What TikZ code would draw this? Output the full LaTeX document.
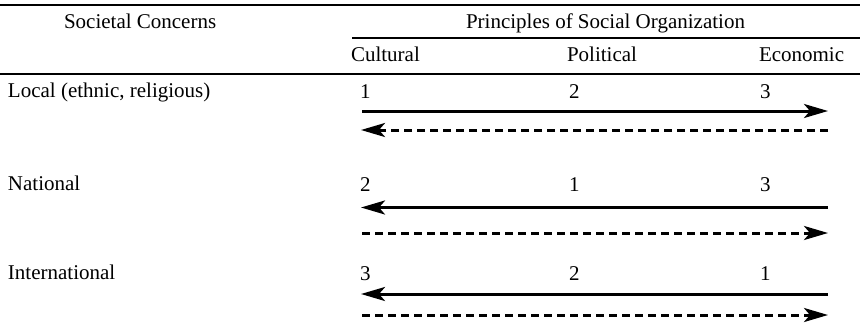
\documentclass[tikz,border=0pt]{standalone}
\usepackage{fontspec}
\setmainfont{Liberation Serif}
\usetikzlibrary{arrows.meta}
\begin{document}
\begin{tikzpicture}[x=1pt,y=-1pt,
  txt/.style={anchor=base west,inner sep=0pt,outer sep=0pt,font=\fontsize{21}{25}\selectfont},
  rule/.style={line width=1.6pt},
  solidarr/.style={line width=3pt,-{Stealth[length=24pt,width=14pt,inset=6pt]}},
  dasharr/.style={line width=3pt,dash pattern=on 8pt off 5pt,-{Stealth[length=24pt,width=14pt,inset=6pt]}}]
\useasboundingbox (0,0) rectangle (860,335);
% rules
\coordinate (r1a) at (0,5);   \coordinate (r1b) at (860,5);
\coordinate (r2a) at (352,38); \coordinate (r2b) at (860,38);
\coordinate (r3a) at (0,74);  \coordinate (r3b) at (860,74);
\draw[rule] (r1a) -- (r1b);
\draw[rule] (r2a) -- (r2b);
\draw[rule] (r3a) -- (r3b);
% headers
\node[txt] (hsoc) at (64,28) {Societal Concerns};
\node[txt] (hpri) at (466,28) {Principles of Social Organization};
\node[txt] (hcul) at (351,61.5) {Cultural};
\node[txt] (hpol) at (567,61.5) {Political};
\node[txt] (heco) at (759,61.5) {Economic};
% row labels
\node[txt] (rloc) at (8,97) {Local (ethnic, religious)};
\node[txt] (rnat) at (8,190) {National};
\node[txt] (rint) at (8,279) {International};
% numbers
\node[txt] (l1) at (360,98) {1};
\node[txt] (l2) at (569,98) {2};
\node[txt] (l3) at (760,98) {3};
\node[txt] (n1) at (360,191) {2};
\node[txt] (n2) at (569,191) {1};
\node[txt] (n3) at (760,191) {3};
\node[txt] (i1) at (360,280) {3};
\node[txt] (i2) at (569,280) {2};
\node[txt] (i3) at (760,280) {1};
% arrow ends
\coordinate (ls1) at (362,111); \coordinate (ls2) at (828,111);
\coordinate (ld1) at (361,130); \coordinate (ld2) at (828,130);
\coordinate (ns1) at (361,207.5); \coordinate (ns2) at (828,207.5);
\coordinate (nd1) at (362,233); \coordinate (nd2) at (828,233);
\coordinate (is1) at (361,294); \coordinate (is2) at (828,294);
\coordinate (id1) at (362,315); \coordinate (id2) at (828,315);
\draw[solidarr] (ls1) -- (ls2);
\draw[dasharr] (ld2) -- (ld1);
\draw[solidarr] (ns2) -- (ns1);
\draw[dasharr] (nd1) -- (nd2);
\draw[solidarr] (is2) -- (is1);
\draw[dasharr] (id1) -- (id2);
\end{tikzpicture}
\end{document}
